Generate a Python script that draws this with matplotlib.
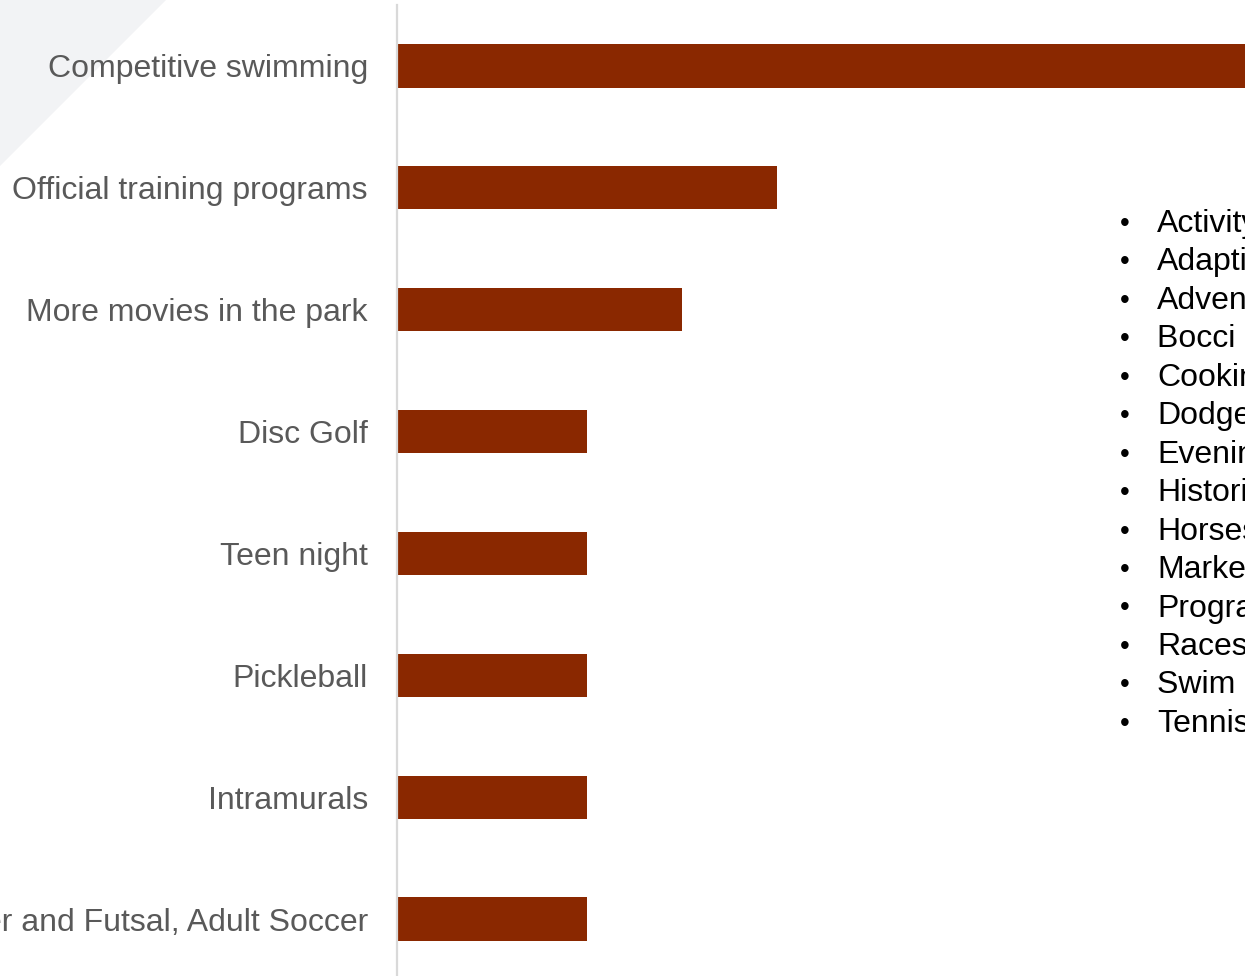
import matplotlib.pyplot as plt
from matplotlib.patches import Polygon

plt.rcParams['font.family'] = ['Liberation Sans', 'DejaVu Sans']

# Responses per suggested program
programs = [
    "Competitive swimming",
    "Official training programs",
    "More movies in the park",
    "Disc Golf",
    "Teen night",
    "Pickleball",
    "Intramurals",
    "Indoor Soccer and Futsal, Adult Soccer",
]
counts = [10, 4, 3, 2, 2, 2, 2, 2]

# Single mentions listed beside the chart
other_programs = [
    "Activity", "Adaptive", "Adventure", "Bocci ball", "Cooking",
    "Dodgeball", "Evening", "Historic", "Horseshoes", "Market",
    "Programs", "Races", "Swim lessons", "Tennis",
]

W, H = 1245, 976
fig = plt.figure(figsize=(W / 100, H / 100), dpi=100)
fig.patch.set_facecolor("white")

# pale corner triangle in the background
tri = Polygon([(0, 1), (166 / W, 1), (0, 1 - 166 / H)], closed=True,
              transform=fig.transFigure, facecolor="#f2f3f5", edgecolor="none", zorder=-10)
fig.patches.append(tri)

ax = fig.add_axes([397 / W, -4 / H, (W - 397) / W, 975 / H])
ax.patch.set_alpha(0)
y = range(len(programs))
ax.barh(y, counts, height=0.355, color="#8a2800", edgecolor="none")
ax.set_ylim(len(programs) - 0.5, -0.5)
ax.set_xlim(0, (W - 398) / 95.0)
ax.set_yticks(list(y))
ax.set_yticklabels(programs, fontsize=23, color="#595959")
ax.tick_params(axis="y", length=0, pad=21)
ax.set_xticks([])
for s in ["top", "right", "bottom"]:
    ax.spines[s].set_visible(False)
ax.spines["left"].set_color("#d9d9d9")
ax.spines["left"].set_linewidth(1.6)

for i, name in enumerate(other_programs):
    ypix = 224 + i * 38.45
    fig.text(1125 / W, 1 - ypix / H, "•", fontsize=20, color="black",
             ha="center", va="center")
    fig.text(1157 / W, 1 - ypix / H, name, fontsize=23, color="black",
             ha="left", va="center")

fig.savefig("out.png", dpi=100)
